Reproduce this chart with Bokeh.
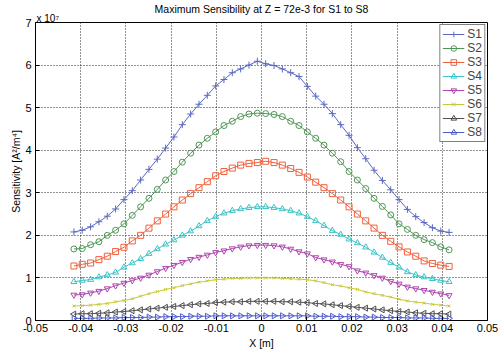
import math
from bokeh.plotting import figure
from bokeh.models import Legend, LegendItem, Title, FixedTicker, Range1d
from bokeh.embed import file_html
from bokeh.resources import INLINE

# ---- data (sensitivity in units of 1e7 A^2/m^4) ----
X = [-0.04150, -0.03966, -0.03781, -0.03597, -0.03412, -0.03228, -0.03043, -0.02859,
     -0.02674, -0.02490, -0.02306, -0.02121, -0.01937, -0.01752, -0.01568, -0.01383,
     -0.01199, -0.01014, -0.00830, -0.00646, -0.00461, -0.00277, -0.00092,
     0.00092, 0.00277, 0.00461, 0.00646, 0.00830, 0.01014, 0.01199, 0.01383,
     0.01568, 0.01752, 0.01937, 0.02121, 0.02306, 0.02490, 0.02674, 0.02859,
     0.03043, 0.03228, 0.03412, 0.03597, 0.03781, 0.03966, 0.04150]

S1 = [2.08, 2.12, 2.20, 2.32, 2.45, 2.62, 2.84, 3.05, 3.30, 3.55, 3.79, 4.05, 4.31, 4.60, 4.85, 5.08, 5.29, 5.51, 5.66, 5.82, 5.91, 6.00, 6.09,
      6.03, 5.99, 5.91, 5.82, 5.73, 5.50, 5.27, 5.08, 4.86, 4.60, 4.35, 4.06, 3.80, 3.53, 3.29, 3.07, 2.84, 2.61, 2.44, 2.30, 2.18, 2.10, 2.07]
S2 = [1.68, 1.69, 1.78, 1.85, 2.00, 2.12, 2.27, 2.47, 2.67, 2.87, 3.08, 3.30, 3.50, 3.72, 3.93, 4.12, 4.28, 4.43, 4.58, 4.68, 4.79, 4.85, 4.87,
      4.86, 4.84, 4.79, 4.68, 4.58, 4.43, 4.28, 4.12, 3.93, 3.73, 3.50, 3.30, 3.10, 2.87, 2.68, 2.48, 2.27, 2.14, 2.00, 1.90, 1.83, 1.73, 1.66]
S3 = [1.28, 1.32, 1.35, 1.43, 1.51, 1.62, 1.72, 1.87, 2.00, 2.17, 2.34, 2.50, 2.67, 2.83, 2.98, 3.12, 3.26, 3.40, 3.50, 3.58, 3.65, 3.69, 3.71,
      3.74, 3.71, 3.65, 3.57, 3.48, 3.37, 3.25, 3.12, 2.98, 2.83, 2.67, 2.50, 2.34, 2.17, 2.00, 1.86, 1.73, 1.61, 1.51, 1.40, 1.34, 1.30, 1.27]
S4 = [0.91, 0.94, 0.96, 1.02, 1.07, 1.13, 1.25, 1.35, 1.45, 1.57, 1.68, 1.79, 1.89, 2.00, 2.10, 2.22, 2.34, 2.44, 2.52, 2.58, 2.62, 2.65, 2.67,
      2.67, 2.65, 2.62, 2.58, 2.52, 2.44, 2.34, 2.23, 2.11, 2.02, 1.91, 1.82, 1.72, 1.60, 1.48, 1.36, 1.25, 1.14, 1.07, 1.02, 0.98, 0.94, 0.91]
S5 = [0.60, 0.61, 0.65, 0.69, 0.75, 0.82, 0.88, 0.94, 1.00, 1.07, 1.15, 1.23, 1.30, 1.37, 1.44, 1.49, 1.54, 1.60, 1.64, 1.69, 1.73, 1.76, 1.77,
      1.77, 1.76, 1.73, 1.68, 1.62, 1.57, 1.48, 1.43, 1.38, 1.32, 1.27, 1.17, 1.12, 1.06, 1.00, 0.92, 0.86, 0.79, 0.75, 0.71, 0.67, 0.63, 0.59]
S6 = [0.34, 0.35, 0.36, 0.38, 0.40, 0.44, 0.47, 0.51, 0.57, 0.63, 0.68, 0.73, 0.77, 0.82, 0.86, 0.90, 0.93, 0.96, 0.97, 0.99, 0.99, 1.00, 1.00,
      1.00, 1.00, 0.99, 0.98, 0.97, 0.96, 0.93, 0.89, 0.84, 0.81, 0.77, 0.73, 0.67, 0.63, 0.59, 0.55, 0.50, 0.46, 0.43, 0.41, 0.38, 0.36, 0.34]
S7 = [0.15, 0.16, 0.16, 0.17, 0.18, 0.20, 0.21, 0.23, 0.25, 0.27, 0.29, 0.31, 0.33, 0.35, 0.37, 0.39, 0.40, 0.42, 0.43, 0.44, 0.44, 0.45, 0.45,
      0.45, 0.45, 0.44, 0.44, 0.43, 0.42, 0.40, 0.39, 0.37, 0.35, 0.33, 0.31, 0.29, 0.27, 0.25, 0.23, 0.21, 0.20, 0.18, 0.17, 0.16, 0.16, 0.15]
S8 = [0.05, 0.05, 0.05, 0.06, 0.06, 0.06, 0.07, 0.07, 0.07, 0.08, 0.08, 0.09, 0.09, 0.09, 0.10, 0.10, 0.10, 0.11, 0.11, 0.11, 0.11, 0.11, 0.11,
      0.11, 0.11, 0.11, 0.11, 0.11, 0.11, 0.10, 0.10, 0.10, 0.09, 0.09, 0.09, 0.08, 0.08, 0.07, 0.07, 0.07, 0.06, 0.06, 0.06, 0.05, 0.05, 0.05]

SERIES_NAMES = ["S1", "S2", "S3", "S4", "S5", "S6", "S7", "S8"]
X_TICKS = [-0.05, -0.04, -0.03, -0.02, -0.01, 0.0, 0.01, 0.02, 0.03, 0.04, 0.05]
X_TICK_LABELS = ["-0.05", "-0.04", "-0.03", "-0.02", "-0.01", "0", "0.01", "0.02", "0.03", "0.04", "0.05"]
Y_TICKS = [0, 1, 2, 3, 4, 5, 6, 7]

TITLE = "Maximum Sensibility at Z = 72e-3 for S1 to S8"
EXPONENT = "x 10\u2077"
XLABEL = "X [m]"
YLABEL = "Sensitivity [A\u00b2/m\u2074]"

# ---- styles ----
COLORS = ["#5b68c0", "#4f9656", "#f0603c", "#3cc4c8", "#b044b0", "#c8c83c", "#505050", "#4c5ccc"]
MARKERS = ["cross", "circle", "square", "triangle", "inverted_triangle", "x", "triangle", "triangle"]
ANGLES = [0, 0, 0, 0, 0, 0, math.pi / 2, -math.pi / 2]
SIZES = [7, 6, 6, 6, 6, 4, 6, 6]
FONT = "Liberation Sans"

p = figure(width=498, height=351, output_backend="svg", toolbar_location=None,
           x_range=Range1d(-0.05, 0.05), y_range=Range1d(0, 7),
           min_border_left=35, min_border_right=11, min_border_top=22, min_border_bottom=29)
p.background_fill_color = "white"
p.border_fill_color = "white"
p.outline_line_color = "black"
p.outline_line_width = 1

p.title.text = TITLE
p.title.align = "center"
p.title.text_font = FONT
p.title.text_font_size = "10.5px"
p.title.text_font_style = "normal"
p.title.text_color = "black"
p.title.standoff = -5

exp_title = Title(text=EXPONENT, align="left", text_font=FONT, text_font_size="10px",
                  text_font_style="normal", text_color="black", standoff=-3, offset=1)
p.add_layout(exp_title, "above")

series = [S1, S2, S3, S4, S5, S6, S7, S8]
items = []
for name, ys, c, m, a, s in zip(SERIES_NAMES, series, COLORS, MARKERS, ANGLES, SIZES):
    rl = p.line(X, ys, line_color=c, line_width=1)
    rs = p.scatter(X, ys, marker=m, angle=a, size=s, line_color=c, fill_alpha=0, line_width=1)
    items.append(LegendItem(label=name, renderers=[rl, rs]))

legend = Legend(items=items, location="top_right", margin=2, padding=2, spacing=0,
                label_height=14, glyph_height=14, glyph_width=22, label_standoff=3,
                label_width=14,
                label_text_font=FONT, label_text_font_size="12px",
                border_line_color="black", border_line_width=1, background_fill_alpha=1)
p.add_layout(legend, "center")

for ax in [p.xaxis[0], p.yaxis[0]]:
    ax.axis_line_color = "black"
    ax.major_tick_in = 4
    ax.major_tick_out = 0
    ax.minor_tick_line_color = None
    ax.major_tick_line_color = "black"
    ax.major_label_text_font = FONT
    ax.major_label_text_font_size = "11px"
    ax.major_label_text_color = "black"
    ax.axis_label_text_font = FONT
    ax.axis_label_text_font_size = "10.5px"
    ax.axis_label_text_font_style = "normal"
    ax.axis_label_text_color = "black"

p.xaxis.ticker = FixedTicker(ticks=X_TICKS)
p.xaxis.major_label_overrides = {t: l for t, l in zip(X_TICKS, X_TICK_LABELS)}
p.yaxis.ticker = FixedTicker(ticks=Y_TICKS)
p.xaxis.axis_label = XLABEL
p.yaxis.axis_label = YLABEL
p.xaxis.major_label_standoff = 3
p.yaxis.major_label_standoff = 4
p.xaxis.axis_label_standoff = 2
p.yaxis.axis_label_standoff = 0

p.xgrid.ticker = FixedTicker(ticks=X_TICKS)
p.ygrid.ticker = FixedTicker(ticks=Y_TICKS)
p.grid.grid_line_color = "black"
p.grid.grid_line_dash = "1 2"
p.grid.grid_line_alpha = 0.85

open("out.html", "w").write(file_html(p, INLINE))
